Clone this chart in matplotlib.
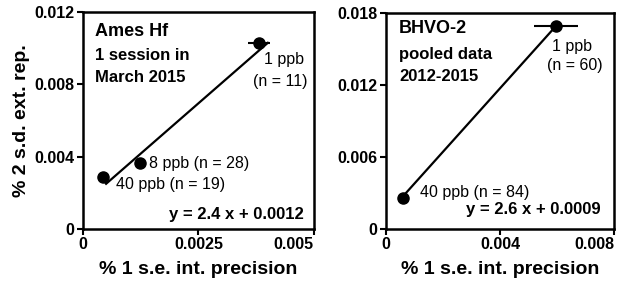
import numpy as np
import matplotlib.pyplot as plt

plt.rcParams['font.family'] = ['Liberation Sans', 'DejaVu Sans']

# Ames Hf, one session March 2015
ames_x = [0.00044, 0.00123, 0.00381]
ames_y = [0.00289, 0.00363, 0.01029]
ames_xerr = [0.0, 0.0, 0.00023]
ames_fit_x = [0.0005, 0.0040]
ames_fit_y = [0.0025, 0.0103]

# BHVO-2, pooled data 2012-2015
bhvo_x = [0.00059, 0.00596]
bhvo_y = [0.00261, 0.01692]
bhvo_xerr = [0.0, 0.00078]
bhvo_fit_x = [0.0007, 0.0058]
bhvo_fit_y = [0.0030, 0.0165]

ames_xticks = [0, 0.0025, 0.005]
ames_xlabels = ['0', '0.0025', '0.005']
ames_yticks = [0, 0.004, 0.008, 0.012]
ames_ylabels = ['0', '0.004', '0.008', '0.012']
bhvo_xticks = [0, 0.004, 0.008]
bhvo_xlabels = ['0', '0.004', '0.008']
bhvo_yticks = [0, 0.006, 0.012, 0.018]
bhvo_ylabels = ['0', '0.006', '0.012', '0.018']

fig = plt.figure(figsize=(6.17, 2.82), dpi=100)
ax1 = fig.add_axes([0.1345, 0.188, 0.3744, 0.769])
ax2 = fig.add_axes([0.6256, 0.188, 0.370, 0.766])


def style(ax, xt, xl, yt, yl):
    ax.set_xlim(xt[0], xt[-1])
    ax.set_ylim(yt[0], yt[-1])
    ax.set_xticks(xt)
    ax.set_xticklabels(xl, fontsize=11.5, fontweight='bold')
    ax.get_xticklabels()[-1].set_ha('right')
    ax.set_yticks(yt)
    ax.set_yticklabels(yl, fontsize=11.5, fontweight='bold')
    for s in ax.spines.values():
        s.set_linewidth(1.8)
    ax.tick_params(direction='out', length=4, width=1.5, pad=2)
    ax.set_xlabel('% 1 s.e. int. precision', fontsize=14, fontweight='bold', labelpad=6)


style(ax1, ames_xticks, ames_xlabels, ames_yticks, ames_ylabels)
style(ax2, bhvo_xticks, bhvo_xlabels, bhvo_yticks, bhvo_ylabels)
ax1.set_ylabel('% 2 s.d. ext. rep.', fontsize=14, fontweight='bold', labelpad=3)

# left panel
ax1.plot(ames_fit_x, ames_fit_y, color='black', lw=1.6)
ax1.errorbar(ames_x, ames_y, xerr=ames_xerr, fmt='o', color='black', ms=8,
             elinewidth=1.5, capsize=0)
ax1.text(0.052, 0.912, 'Ames Hf', transform=ax1.transAxes, fontsize=13,
         fontweight='bold', va='center')
ax1.text(0.052, 0.80, '1 session in', transform=ax1.transAxes, fontsize=12,
         fontweight='bold', va='center')
ax1.text(0.052, 0.70, 'March 2015', transform=ax1.transAxes, fontsize=12,
         fontweight='bold', va='center')
ax1.text(0.87, 0.783, '1 ppb', transform=ax1.transAxes, fontsize=11.5,
         ha='center', va='center')
ax1.text(0.853, 0.682, '(n = 11)', transform=ax1.transAxes, fontsize=11.5,
         ha='center', va='center', clip_on=False)
ax1.text(0.286, 0.304, '8 ppb (n = 28)', transform=ax1.transAxes, fontsize=11.5,
         va='center')
ax1.text(0.143, 0.203, '40 ppb (n = 19)', transform=ax1.transAxes, fontsize=11.5,
         va='center')
ax1.text(0.957, 0.069, 'y = 2.4 x + 0.0012', transform=ax1.transAxes, fontsize=12,
         fontweight='bold', ha='right', va='center')

# right panel
ax2.plot(bhvo_fit_x, bhvo_fit_y, color='black', lw=1.6)
ax2.errorbar(bhvo_x, bhvo_y, xerr=bhvo_xerr, fmt='o', color='black', ms=8,
             elinewidth=1.5, capsize=0)
ax2.text(0.057, 0.926, 'BHVO-2', transform=ax2.transAxes, fontsize=13,
         fontweight='bold', va='center')
ax2.text(0.057, 0.806, 'pooled data', transform=ax2.transAxes, fontsize=12,
         fontweight='bold', va='center')
ax2.text(0.057, 0.704, '2012-2015', transform=ax2.transAxes, fontsize=12,
         fontweight='bold', va='center')
ax2.text(0.816, 0.843, '1 ppb', transform=ax2.transAxes, fontsize=11.5,
         ha='center', va='center')
ax2.text(0.825, 0.755, '(n = 60)', transform=ax2.transAxes, fontsize=11.5,
         ha='center', va='center')
ax2.text(0.149, 0.171, '40 ppb (n = 84)', transform=ax2.transAxes, fontsize=11.5,
         va='center')
ax2.text(0.939, 0.088, 'y = 2.6 x + 0.0009', transform=ax2.transAxes, fontsize=12,
         fontweight='bold', ha='right', va='center')

fig.savefig('out.png', dpi=100)
